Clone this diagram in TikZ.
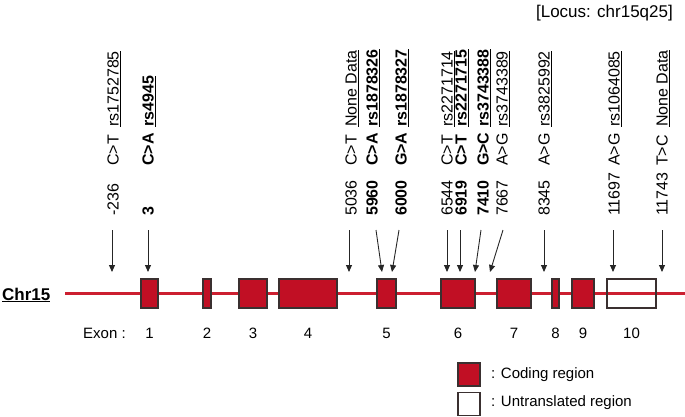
\documentclass[tikz,border=0pt]{standalone}
\usepackage{fontspec}
\setmainfont{Liberation Sans}
\usetikzlibrary{arrows.meta}
\definecolor{exred}{HTML}{C10F24}
\definecolor{linered}{HTML}{CC1F30}
\definecolor{edgec}{HTML}{3A3030}
\begin{document}
\begin{tikzpicture}[x=1pt,y=-1pt,
 exon/.style={draw=edgec, line width=1.2pt, fill=exred, inner sep=0pt, outer sep=0pt, minimum height=29pt},
 utr/.style={draw=edgec, line width=1.2pt, inner sep=0pt, outer sep=0pt, minimum height=29pt},
 col/.style={rotate=90, anchor=base west, inner sep=0pt, font=\fontsize{16}{16}\selectfont},
 colb/.style={col, font=\fontsize{16}{16}\selectfont\bfseries},
 arr/.style={-{Triangle[length=7pt,width=6pt]}, line width=0.9pt, draw=black!85},
 lbl/.style={font=\fontsize{15}{15}\selectfont, inner sep=0pt}]
\useasboundingbox (0,0) rectangle (685,416);

% title
\node[font=\fontsize{17}{17}\selectfont, anchor=base east, inner sep=0pt] (locus) at (673,17) {[Locus: chr15q25]};

% chromosome line
\coordinate (ls) at (65,293);
\coordinate (le) at (685,293);
\draw[linered, line width=3pt] (ls) -- (le);
\node[font=\fontsize{17}{17}\selectfont\bfseries, anchor=base west, inner sep=0pt] (chr) at (2,300) {\underline{Chr15}};

% exons
\node[exon, minimum width=17pt] (e1) at (149.5,293.5) {};
\node[exon, minimum width=8pt]  (e2) at (207,293.5) {};
\node[exon, minimum width=28pt] (e3) at (253,293.5) {};
\node[exon, minimum width=58pt] (e4) at (308,293.5) {};
\node[exon, minimum width=19pt] (e5) at (386.5,293.5) {};
\node[exon, minimum width=34pt] (e6) at (458,293.5) {};
\node[exon, minimum width=34pt] (e7) at (514,293.5) {};
\node[exon, minimum width=7pt]  (e8) at (555.5,293.5) {};
\node[exon, minimum width=22pt] (e9) at (583,293.5) {};
\node[utr, minimum width=49pt]  (e10) at (631.5,293.5) {};

% exon labels
\coordinate (lbase) at (0,338);
\node[lbl, anchor=base west] (exonlbl) at (83,338) {Exon :};
\foreach \k in {1,...,10} {
  \node[lbl, anchor=base] (n\k) at (e\k |- lbase) {\k};
}

% SNP columns
\foreach \cx/\num/\mut/\rs/\st [count=\i] in {
113/-236/C>T/rs1752785/col,
148/3/C>A/rs4945/colb,
351/5036/C>T/None Data/col,
372/5960/C>A/rs1878326/colb,
401/6000/G>A/rs1878327/colb,
447/6544/C>T/rs2271714/col,
461/6919/C>T/rs2271715/colb,
483/7410/G>C/rs3743388/colb,
502/7667/A>G/rs3743389/col,
544/8345/A>G/rs3825992/col,
614/11697/A>G/rs1064085/col,
662/11743/T>C/None Data/col}
{
  \node[\st] (num\i) at (\cx+5.5,216) {\num};
  \node[\st] (mut\i) at (\cx+5.5,166) {\mut};
  \node[\st] (rs\i) at (\cx+5.5,127) {\underline{\rs}};
}

% arrows
\foreach \sx/\ex [count=\i] in {112/112, 148/148, 349/349, 376/382, 399/392, 447/447, 460/460, 481/475, 503/490, 544/544, 613/613, 662/662}
{
  \coordinate (as\i) at (\sx,230);
  \coordinate (ae\i) at (\ex,272);
  \draw[arr] (as\i) -- (ae\i);
}

% legend
\node[exon, minimum width=22pt, minimum height=23pt] (legc) at (469,374.5) {};
\node[utr, fill=white, minimum width=22pt, minimum height=23pt] (legu) at (469,404) {};
\node[lbl, anchor=west] (legct) at (491,375) {: Coding region};
\node[lbl, anchor=west] (legut) at (491,403) {: Untranslated region};
\end{tikzpicture}
\end{document}
